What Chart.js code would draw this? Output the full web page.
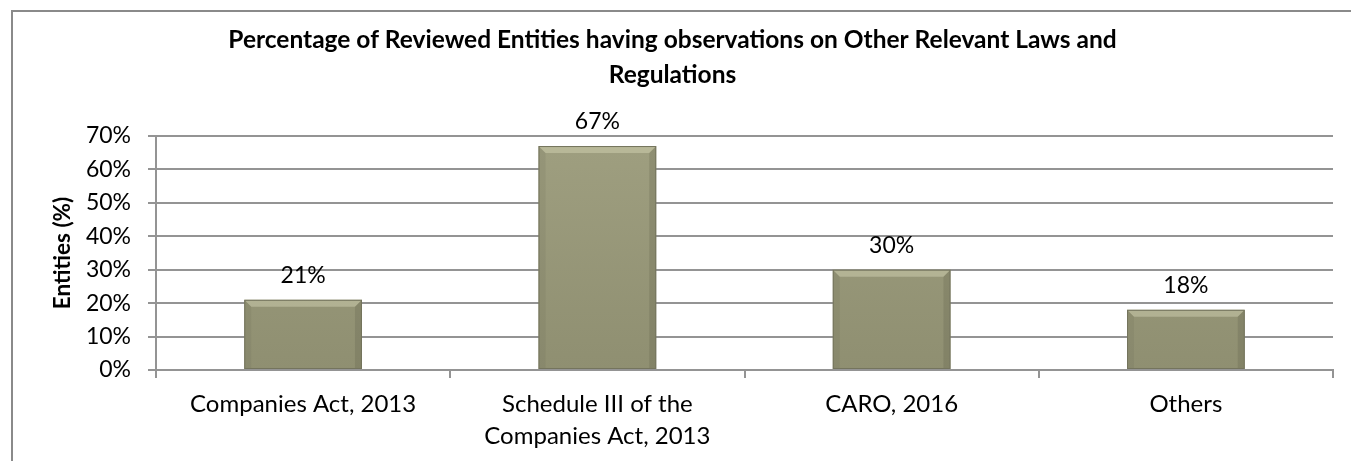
<!DOCTYPE html>
<html>
<head>
<meta charset="utf-8">
<script src="https://cdn.jsdelivr.net/npm/chart.js@4.4.1/dist/chart.umd.min.js"></script>
<style>
  html, body { margin: 0; padding: 0; background: #fff; overflow: hidden; }
  #frame { position: absolute; left: 11px; top: 10px; width: 1400px; height: 500px;
           border-left: 2px solid #8a8a8a; border-top: 2px solid #8a8a8a; }
  #wrap { position: absolute; left: 0; top: 0; width: 1351px; height: 461px; }
</style>
</head>
<body>
<div id="frame"></div>
<div id="wrap"><canvas id="c" width="1351" height="461"></canvas></div>
<script>
const titleLines = ['Percentage of Reviewed Entities having observations on Other Relevant Laws and', 'Regulations'];
const categories = [['Companies Act, 2013'], ['Schedule III of the', 'Companies Act, 2013'], ['CARO, 2016'], ['Others']];
const values = [0.21, 0.67, 0.30, 0.18];
const valueLabels = ['21%', '67%', '30%', '18%'];
const yTitle = 'Entities (%)';

const FONT = 'Lato, "Open Sans", sans-serif';
const GRID = '#949494';

const bevelPlugin = {
  id: 'bevel',
  afterDatasetsDraw(chart) {
    const ctx = chart.ctx;
    const meta = chart.getDatasetMeta(0);
    meta.data.forEach((bar) => {
      const l = bar.x - bar.width / 2, r = bar.x + bar.width / 2;
      const t = bar.y, b = bar.base;
      const d = 7;
      ctx.save();
      ctx.beginPath();
      ctx.moveTo(l, t); ctx.lineTo(r, t); ctx.lineTo(r - d, t + d); ctx.lineTo(l + d, t + d); ctx.closePath();
      ctx.fillStyle = 'rgba(215,215,185,0.45)';
      ctx.fill();
      ctx.beginPath();
      ctx.moveTo(l, t); ctx.lineTo(l + d, t + d); ctx.lineTo(l + d, b); ctx.lineTo(l, b); ctx.closePath();
      ctx.fillStyle = 'rgba(90,90,70,0.12)';
      ctx.fill();
      ctx.beginPath();
      ctx.moveTo(r, t); ctx.lineTo(r - d, t + d); ctx.lineTo(r - d, b); ctx.lineTo(r, b); ctx.closePath();
      ctx.fillStyle = 'rgba(70,70,55,0.18)';
      ctx.fill();
      ctx.strokeStyle = '#74745d';
      ctx.lineWidth = 1;
      ctx.strokeRect(l + 0.5, t + 0.5, r - l - 1, b - t - 1);
      ctx.restore();
    });
  }
};

const labelPlugin = {
  id: 'valueLabels',
  afterDatasetsDraw(chart) {
    const ctx = chart.ctx;
    const meta = chart.getDatasetMeta(0);
    ctx.save();
    ctx.font = '23px ' + FONT;
    ctx.fillStyle = '#000';
    ctx.textAlign = 'center';
    ctx.textBaseline = 'middle';
    meta.data.forEach((bar, i) => {
      ctx.fillText(valueLabels[i], bar.x, bar.y - 24);
    });
    ctx.restore();
  }
};

new Chart(document.getElementById('c'), {
  type: 'bar',
  data: {
    labels: categories,
    datasets: [{
      data: values,
      backgroundColor: (ctx) => {
        const chart = ctx.chart;
        const area = chart.chartArea;
        if (!area) return '#969677';
        const g = chart.ctx.createLinearGradient(0, area.top, 0, area.bottom);
        g.addColorStop(0, '#9f9f80');
        g.addColorStop(1, '#8f8f71');
        return g;
      },
      borderWidth: 0,
      barPercentage: 0.4,
      categoryPercentage: 1.0
    }]
  },
  options: {
    responsive: false,
    animation: false,
    devicePixelRatio: 1,
    layout: { padding: { left: 12, right: 18, top: 0, bottom: 0 } },
    plugins: {
      legend: { display: false },
      tooltip: { enabled: false },
      title: {
        display: true,
        text: titleLines,
        color: '#000',
        font: { family: FONT, size: 24.5, weight: 'bold', lineHeight: 35 / 24.5 },
        padding: { top: 23, bottom: 43 }
      }
    },
    scales: {
      x: {
        grid: { offset: true, drawOnChartArea: false, drawTicks: true, tickLength: 8, color: GRID, lineWidth: 2 },
        border: { display: true, color: GRID, width: 2 },
        ticks: { color: '#000', font: { family: FONT, size: 24, lineHeight: 1.33 }, padding: 10, maxRotation: 0, autoSkip: false },
        afterFit(scale) { scale.height = 91; }
      },
      y: {
        min: 0, max: 0.7,
        ticks: {
          stepSize: 0.1, color: '#000', padding: 17,
          font: { family: FONT, size: 23 },
          callback: (v) => Math.round(v * 100) + '%'
        },
        grid: { color: GRID, lineWidth: 2, tickLength: 8 },
        border: { display: true, color: GRID, width: 2 },
        title: {
          display: true, text: yTitle, color: '#000',
          font: { family: FONT, size: 22.5, weight: 'bold', lineHeight: 1.2 },
          padding: { top: 37, bottom: 0 }
        },
        afterFit(scale) { scale.width = 144; }
      }
    }
  },
  plugins: [bevelPlugin, labelPlugin]
});
</script>
</body>
</html>
